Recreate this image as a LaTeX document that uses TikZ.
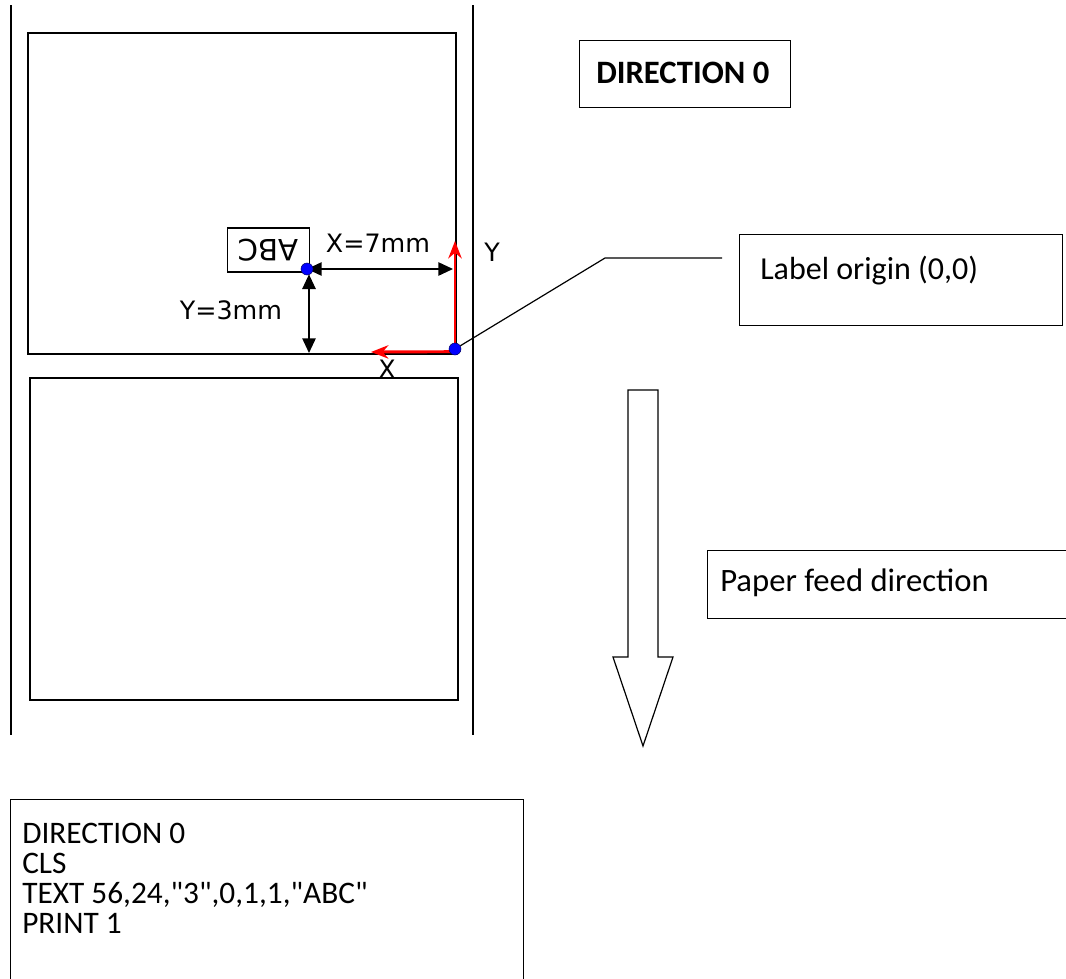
\documentclass[tikz,border=0pt]{standalone}
\usepackage{fontspec}
\setmainfont{Carlito}
\newfontfamily\dejavu{DejaVu Sans}
\usetikzlibrary{arrows.meta,positioning}
\tikzset{
    labelbox/.style={rectangle,draw,line width=1.3pt,inner sep=0pt,anchor=north west},
    textbox/.style={rectangle,draw,line width=0.9pt,inner sep=0pt,anchor=north west},
    txt/.style={inner sep=0pt,anchor=west,font=\fontsize{24}{28}\selectfont},
    axis/.style={red,line width=2.2pt,-{Stealth[length=13pt,width=10pt]}},
    dim/.style={black,line width=1.2pt,{Triangle[length=11pt,width=10pt]}-{Triangle[length=11pt,width=10pt]}},
    dot/.style={circle,fill=blue,draw=blue!40!black,inner sep=0pt,minimum size=9pt},
    axlabel/.style={inner sep=0pt,font=\dejavu\fontsize{19}{22}\selectfont}}
\begin{document}
\begin{tikzpicture}[x=0.75pt,y=-0.75pt]
    \useasboundingbox (0,0) rectangle (1066,978);
    % paper edges
    \draw[line width=1.3pt] (11,5) -- (11,735);
    \draw[line width=1.3pt] (473,5) -- (473,735);
    % labels on the roll
    \node[labelbox,minimum width=321pt,minimum height=240.75pt] (lab1) at (27,32) {};
    \node[labelbox,minimum width=321pt,minimum height=241.5pt] (lab2) at (29,377) {};
    % printed text and its offset
    \node[draw,line width=0.9pt,rotate=180,inner sep=2pt,minimum width=62pt,minimum height=33pt,
        font=\dejavu\fontsize{22}{26}\selectfont] (abc) at (268.5,250) {ABC};
    \coordinate (P) at (307,269);
    \coordinate (O) at (455,349);
    \coordinate (Pr) at (453,269);
    \coordinate (Pb) at (309,353);
    \draw[dim] (P) -- (Pr);
    \draw[dim] ([yshift=-4pt]P -| Pb) -- (Pb);
    \node[axlabel] (xdim) at (378,243) {X=7mm};
    \node[axlabel] (ydim) at (231,310) {Y=3mm};
    % axes
    \coordinate (Ytip) at (455,241);
    \coordinate (Xtip) at (371,352);
    \draw[axis] (O) -- (Ytip);
    \draw[axis] ([yshift=-2pt]O) -- (Xtip);
    \node[axlabel] (ylab) at (492,252) {Y};
    \node[axlabel] (xlab) at (387,369) {X};
    \node[dot] (pdot) at (P) {};
    \node[dot] (odot) at (O) {};
    % origin callout
    \node[textbox,minimum width=242.25pt,minimum height=68.25pt] (orig) at (739,234) {};
    \node[txt] (origtxt) at (760,271) {Label origin (0,0)};
    \coordinate (bend) at (605,258);
    \coordinate (lead) at (722,258);
    \draw[line width=0.9pt] (odot) -- (bend) -- (lead);
    % title
    \node[textbox,minimum width=158.25pt,minimum height=50.25pt] (title) at (579,40) {};
    \node[txt,font=\bfseries\fontsize{24.5}{28}\selectfont] (titletxt) at (596,73) {DIRECTION 0};
    % feed arrow
    \draw[line width=0.9pt] (628,390) -- (658,390) -- (658,657) -- (673,657) -- (643,746)
        -- (613,657) -- (628,657) -- cycle;
    \node[textbox,minimum width=270pt,minimum height=51pt] (feed) at (707,550) {};
    \node[txt,font=\fontsize{24.5}{28}\selectfont] (feedtxt) at (720,583) {Paper feed direction};
    % command listing
    \node[textbox,minimum width=384.75pt,minimum height=150pt] (code) at (10,799) {};
    \node[txt,anchor=north west,align=left,font=\fontsize{23.5}{22.5}\selectfont] (codetxt) at (22,823)
        {DIRECTION 0\\CLS\\TEXT 56,24,\textquotedbl 3\textquotedbl ,0,1,1,\textquotedbl ABC\textquotedbl\\PRINT 1};
\end{tikzpicture}
\end{document}
